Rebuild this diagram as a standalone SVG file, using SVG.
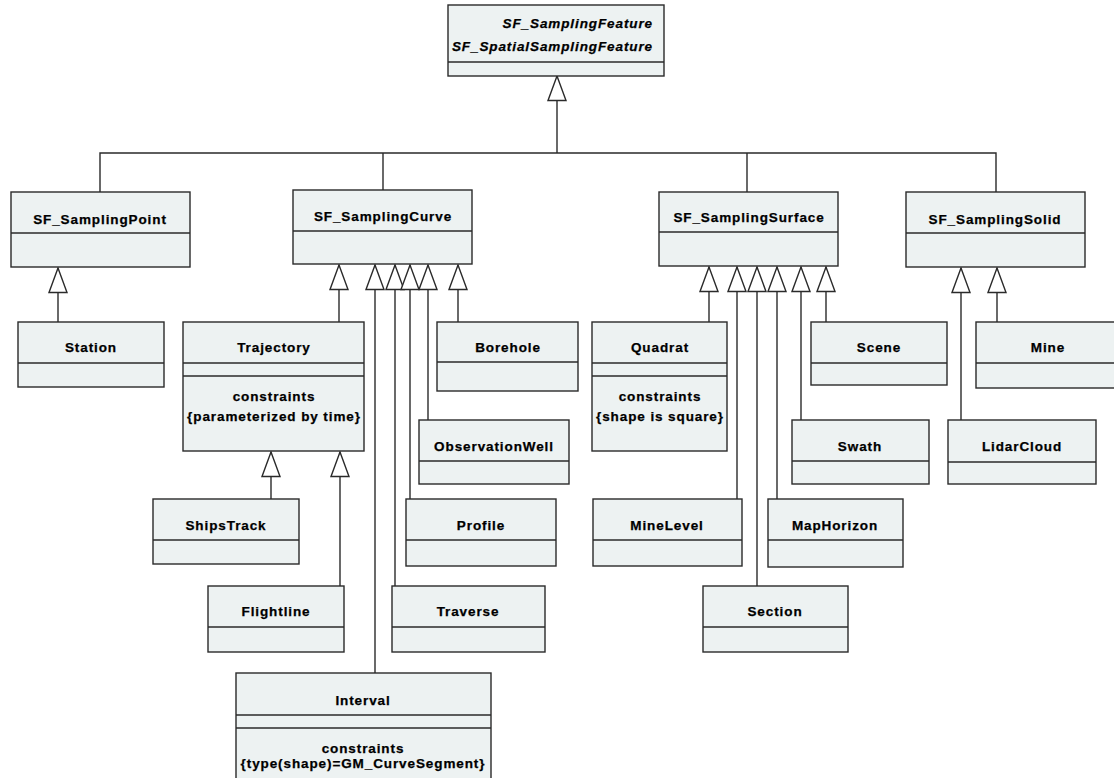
<svg xmlns="http://www.w3.org/2000/svg" width="1114" height="778" viewBox="0 0 1114 778">
<style>
.box{fill:#edf2f2;stroke:#2a2a2a;stroke-width:1.4}
.sep{stroke:#2a2a2a;stroke-width:1.4}
.t{font-family:"Liberation Sans",Arial,sans-serif;font-weight:bold;font-size:13.5px;letter-spacing:0.9px;text-anchor:middle;fill:#000;stroke:#000;stroke-width:0.25}
.it{font-style:italic;text-anchor:end}
.con{fill:none;stroke:#2a2a2a;stroke-width:1.4}
.gen{fill:none;stroke:#2a2a2a;stroke-width:1.4;marker-end:url(#tri)}
</style>
<defs>
<marker id="tri" markerUnits="userSpaceOnUse" viewBox="0 0 27 20" refX="25.5" refY="10" markerWidth="27" markerHeight="20" orient="auto">
<path d="M1,1 L25.5,10 L1,19 Z" fill="#fff" stroke="#2a2a2a" stroke-width="1.4"/>
</marker>
</defs>
<rect width="1114" height="778" fill="#fff"/>
<g id="connectors">
<path class="con" d="M100,192 V153 H996 V192"/>
<path class="con" d="M383,153 V190"/>
<path class="con" d="M747,153 V192"/>
<path class="gen" d="M557,153 V76"/>
<path class="gen" d="M58,322 V268"/>
<path class="gen" d="M339,322 V265"/>
<path class="gen" d="M375,778 V265"/>
<path class="gen" d="M395,586 V265"/>
<path class="gen" d="M410,499 V265"/>
<path class="gen" d="M428,420 V265"/>
<path class="gen" d="M458,322 V265"/>
<path class="gen" d="M271,499 V452"/>
<path class="gen" d="M340,586 V452"/>
<path class="gen" d="M709,322 V267"/>
<path class="gen" d="M737,499 V267"/>
<path class="gen" d="M757,586 V267"/>
<path class="gen" d="M777,499 V267"/>
<path class="gen" d="M801,420 V267"/>
<path class="gen" d="M826,322 V267"/>
<path class="gen" d="M961,420 V268"/>
<path class="gen" d="M997,322 V268"/>
</g>
<g id="SF_SamplingFeature">
<rect class="box" x="448" y="5" width="216" height="71"/>
<line class="sep" x1="448" y1="62" x2="664" y2="62"/>
<text class="t it" x="653" y="28">SF_SamplingFeature</text>
<text class="t it" x="653" y="51">SF_SpatialSamplingFeature</text>
</g>
<g id="SF_SamplingPoint">
<rect class="box" x="11" y="192" width="179" height="75"/>
<line class="sep" x1="11" y1="233" x2="190" y2="233"/>
<text class="t" x="100" y="224">SF_SamplingPoint</text>
</g>
<g id="Station">
<rect class="box" x="18" y="322" width="146" height="65"/>
<line class="sep" x1="18" y1="363" x2="164" y2="363"/>
<text class="t" x="91" y="352">Station</text>
</g>
<g id="SF_SamplingCurve">
<rect class="box" x="293" y="190" width="179" height="74"/>
<line class="sep" x1="293" y1="231" x2="472" y2="231"/>
<text class="t" x="383" y="221">SF_SamplingCurve</text>
</g>
<g id="Trajectory">
<rect class="box" x="183" y="322" width="181" height="129"/>
<line class="sep" x1="183" y1="363" x2="364" y2="363"/>
<line class="sep" x1="183" y1="376" x2="364" y2="376"/>
<text class="t" x="274" y="352">Trajectory</text>
<text class="t" x="274" y="401">constraints</text>
<text class="t" x="274" y="421">{parameterized by time}</text>
</g>
<g id="ShipsTrack">
<rect class="box" x="153" y="499" width="146" height="65"/>
<line class="sep" x1="153" y1="540" x2="299" y2="540"/>
<text class="t" x="226" y="530">ShipsTrack</text>
</g>
<g id="Flightline">
<rect class="box" x="208" y="586" width="136" height="66"/>
<line class="sep" x1="208" y1="627" x2="344" y2="627"/>
<text class="t" x="276" y="616">Flightline</text>
</g>
<g id="Borehole">
<rect class="box" x="437" y="322" width="141" height="69"/>
<line class="sep" x1="437" y1="362" x2="578" y2="362"/>
<text class="t" x="508" y="352">Borehole</text>
</g>
<g id="ObservationWell">
<rect class="box" x="419" y="420" width="150" height="64"/>
<line class="sep" x1="419" y1="461" x2="569" y2="461"/>
<text class="t" x="494" y="451">ObservationWell</text>
</g>
<g id="Profile">
<rect class="box" x="406" y="499" width="150" height="67"/>
<line class="sep" x1="406" y1="540" x2="556" y2="540"/>
<text class="t" x="481" y="530">Profile</text>
</g>
<g id="Traverse">
<rect class="box" x="392" y="586" width="153" height="66"/>
<line class="sep" x1="392" y1="627" x2="545" y2="627"/>
<text class="t" x="468" y="616">Traverse</text>
</g>
<g id="Interval">
<rect class="box" x="236" y="673" width="255" height="112"/>
<line class="sep" x1="236" y1="715" x2="491" y2="715"/>
<line class="sep" x1="236" y1="728" x2="491" y2="728"/>
<text class="t" x="363" y="705">Interval</text>
<text class="t" x="363" y="753">constraints</text>
<text class="t" x="363" y="768">{type(shape)=GM_CurveSegment}</text>
</g>
<g id="SF_SamplingSurface">
<rect class="box" x="659" y="192" width="179" height="74"/>
<line class="sep" x1="659" y1="232" x2="838" y2="232"/>
<text class="t" x="749" y="222">SF_SamplingSurface</text>
</g>
<g id="Quadrat">
<rect class="box" x="592" y="322" width="135" height="129"/>
<line class="sep" x1="592" y1="363" x2="727" y2="363"/>
<line class="sep" x1="592" y1="376" x2="727" y2="376"/>
<text class="t" x="660" y="352">Quadrat</text>
<text class="t" x="660" y="401">constraints</text>
<text class="t" x="660" y="421">{shape is square}</text>
</g>
<g id="Scene">
<rect class="box" x="811" y="322" width="136" height="63"/>
<line class="sep" x1="811" y1="363" x2="947" y2="363"/>
<text class="t" x="879" y="352">Scene</text>
</g>
<g id="MineLevel">
<rect class="box" x="593" y="499" width="149" height="67"/>
<line class="sep" x1="593" y1="540" x2="742" y2="540"/>
<text class="t" x="667" y="530">MineLevel</text>
</g>
<g id="Section">
<rect class="box" x="703" y="586" width="145" height="66"/>
<line class="sep" x1="703" y1="627" x2="848" y2="627"/>
<text class="t" x="775" y="616">Section</text>
</g>
<g id="MapHorizon">
<rect class="box" x="768" y="499" width="135" height="68"/>
<line class="sep" x1="768" y1="540" x2="903" y2="540"/>
<text class="t" x="835" y="530">MapHorizon</text>
</g>
<g id="Swath">
<rect class="box" x="792" y="420" width="137" height="64"/>
<line class="sep" x1="792" y1="461" x2="929" y2="461"/>
<text class="t" x="860" y="451">Swath</text>
</g>
<g id="SF_SamplingSolid">
<rect class="box" x="906" y="192" width="179" height="75"/>
<line class="sep" x1="906" y1="233" x2="1085" y2="233"/>
<text class="t" x="995" y="224">SF_SamplingSolid</text>
</g>
<g id="Mine">
<rect class="box" x="976" y="322" width="150" height="66"/>
<line class="sep" x1="976" y1="363" x2="1126" y2="363"/>
<text class="t" x="1048" y="352">Mine</text>
</g>
<g id="LidarCloud">
<rect class="box" x="948" y="420" width="148" height="64"/>
<line class="sep" x1="948" y1="462" x2="1096" y2="462"/>
<text class="t" x="1022" y="451">LidarCloud</text>
</g>
</svg>
